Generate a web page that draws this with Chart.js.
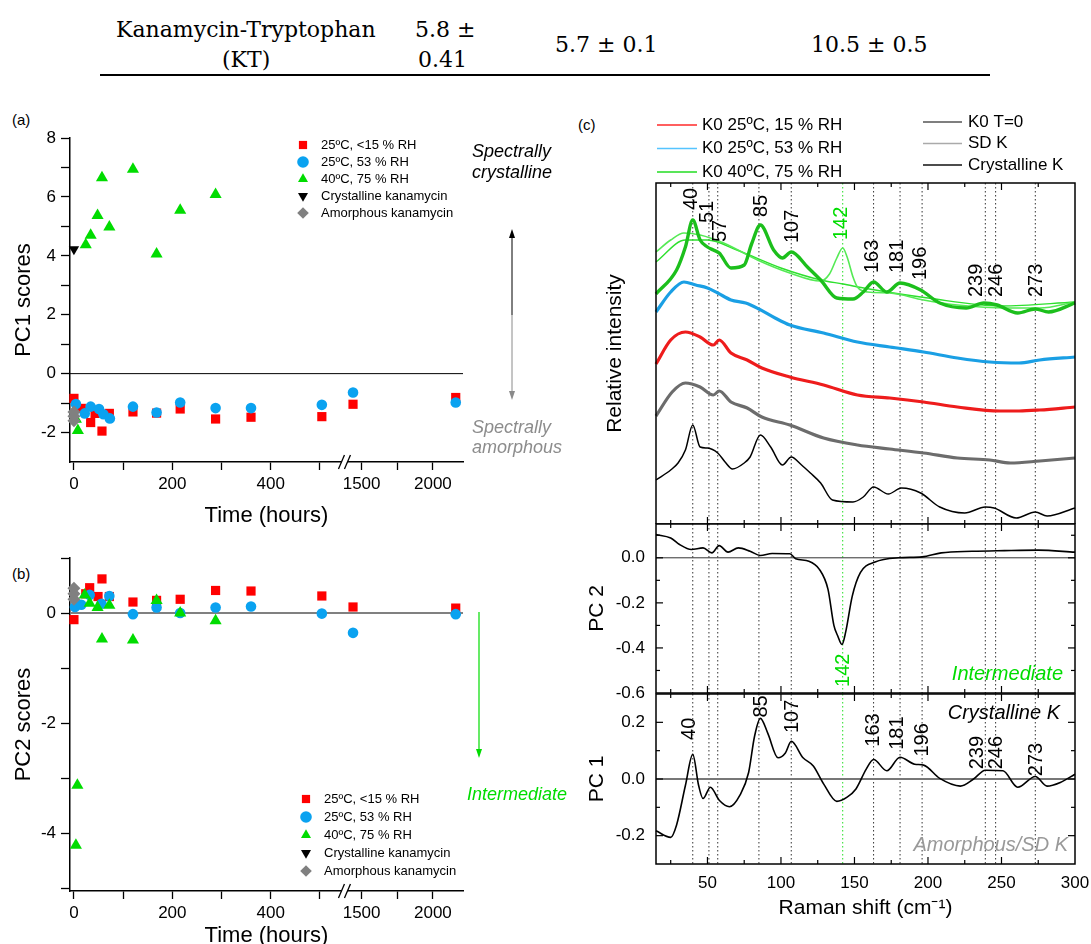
<!DOCTYPE html>
<html>
<head>
<meta charset="utf-8">
<script src="https://cdn.jsdelivr.net/npm/chart.js@4.4.1/dist/chart.umd.min.js"></script>
<style>
  body { margin: 0; background: #fff; }
  #page { position: relative; width: 1091px; height: 944px; overflow: hidden; font-family: "Liberation Sans", Arial, sans-serif; }
  canvas { position: absolute; }
  .t { position: absolute; white-space: nowrap; line-height: 1; }
  .serif { font-family: "DejaVu Serif", serif; font-size: 22px; }
  .tag { font-size: 15px; }
</style>
</head>
<body>
<div id="page">
  <div class="t serif" style="left:116px;top:19px">Kanamycin-Tryptophan</div>
  <div class="t serif" style="left:222px;top:49px">(KT)</div>
  <div class="t serif" style="left:415px;top:19px">5.8 ±</div>
  <div class="t serif" style="left:418px;top:49px">0.41</div>
  <div class="t serif" style="left:555px;top:34px">5.7 ± 0.1</div>
  <div class="t serif" style="left:811px;top:34px">10.5 ± 0.5</div>
  <div style="position:absolute;left:100px;top:74px;width:890px;height:2px;background:#000"></div>

  <div class="t tag" style="left:12px;top:112px">(a)</div>
  <div class="t tag" style="left:12px;top:566px">(b)</div>
  <div class="t tag" style="left:578px;top:117px">(c)</div>

  <canvas id="cA" width="590" height="440" style="left:0;top:95px"></canvas>
  <canvas id="cB" width="590" height="404" style="left:0;top:540px"></canvas>
  <canvas id="cTop" width="511" height="424" style="left:580px;top:100px"></canvas>
  <canvas id="cPC2" width="511" height="190" style="left:580px;top:514px"></canvas>
  <canvas id="cPC1" width="511" height="260" style="left:580px;top:684px"></canvas>
</div>
<script>
// ---- (a) PC1 scores vs storage time (hours)
const tRedA = [0, 15, 34, 43, 57, 72, 120, 168, 216, 288, 360, 504, 1440, 2160];
const pc1Red = [-0.84, -1.18, -1.66, -1.35, -1.95, -1.35, -1.3, -1.34, -1.2, -1.54, -1.48, -1.46, -1.04, -0.81];
const tBlueA = [4, 22, 34, 51, 60, 73, 120, 168, 216, 288, 360, 504, 1440, 2160];
const pc1Blue = [-1.03, -1.35, -1.12, -1.2, -1.38, -1.52, -1.12, -1.32, -0.98, -1.17, -1.17, -1.06, -0.64, -0.98];
const tGreenA = [4, 8, 24, 34, 48, 57, 72, 120, 168, 216, 288];
const pc1Green = [-1.55, -1.93, 4.38, 4.7, 5.37, 6.65, 4.98, 6.94, 4.06, 5.55, 6.08];
const tCrystA = [0];
const pc1Cryst = [4.22];
const tAmorphA = [0, 0, 0];
const pc1Amorph = [-1.3, -1.45, -1.6];

// ---- (b) PC2 scores
const tRedB = [0, 24, 32, 49, 57, 72, 120, 168, 216, 288, 360, 504, 1440, 2160];
const pc2Red = [-0.12, 0.35, 0.46, 0.3, 0.62, 0.3, 0.2, 0.23, 0.25, 0.41, 0.4, 0.31, 0.11, 0.09];
const tBlueB = [2, 15, 32, 56, 72, 120, 168, 216, 288, 360, 504, 1440, 2160];
const pc2Blue = [0.11, 0.15, 0.33, 0.17, 0.31, -0.02, 0.1, 0, 0.1, 0.12, -0.01, -0.36, -0.02];
const tGreenB = [4, 7, 22, 32, 48, 57, 72, 120, 168, 216, 288];
const pc2Green = [-4.22, -3.13, 0.33, 0.18, 0.1, -0.47, 0.14, -0.49, 0.23, 0, -0.14];
const tCrystB = [];
const pc2Cryst = [];
const tAmorphB = [0, 0, 0];
const pc2Amorph = [0.45, 0.35, 0.25];

const scoreLabels = ['25ºC, <15 % RH', '25ºC, 53 % RH', '40ºC, 75 % RH', 'Crystalline kanamycin', 'Amorphous kanamycin'];
const timeTicks = [0, 100, 200, 300, 400, 500, 1500, 1750, 2000];
const timeLabels = [0, 200, 400, 1500, 2000];

// ---- (c) Raman spectra (relative intensity, arbitrary units)
const ramanCryst = [15, 25, 30, 35, 40, 45, 50, 57, 62, 67, 75, 79, 86, 93, 101, 107, 114, 120, 127, 135, 149, 156, 163, 173, 182, 195, 208, 225, 239, 245, 260, 273, 281, 300];
const intCryst = [0.44, 0.54, 0.61, 0.74, 0.99, 0.77, 0.76, 0.71, 0.62, 0.55, 0.61, 0.67, 0.89, 0.77, 0.59, 0.67, 0.59, 0.51, 0.41, 0.24, 0.22, 0.27, 0.37, 0.3, 0.36, 0.31, 0.17, 0.11, 0.17, 0.16, 0.06, 0.12, 0.08, 0.16];
const ramanSD = [15, 26, 35, 45, 54, 58, 66, 77, 87, 106, 129, 152, 174, 197, 220, 242, 256, 276, 300];
const intSD = [1.08, 1.32, 1.41, 1.37, 1.29, 1.33, 1.22, 1.16, 1.07, 0.99, 0.86, 0.79, 0.75, 0.71, 0.66, 0.64, 0.61, 0.63, 0.66];
const ramanRH15 = [15, 25, 35, 45, 54, 58, 66, 77, 87, 106, 129, 152, 174, 197, 220, 249, 262, 276, 300];
const intRH15 = [1.6, 1.84, 1.92, 1.87, 1.79, 1.84, 1.71, 1.64, 1.56, 1.47, 1.39, 1.29, 1.26, 1.22, 1.17, 1.13, 1.13, 1.14, 1.17];
const ramanRH53 = [15, 25, 34, 42, 50, 57, 66, 76, 85, 96, 106, 129, 152, 174, 197, 220, 242, 262, 276, 300];
const intRH53 = [2.12, 2.32, 2.42, 2.39, 2.36, 2.31, 2.24, 2.21, 2.15, 2.06, 1.99, 1.91, 1.82, 1.77, 1.72, 1.66, 1.62, 1.61, 1.64, 1.67];
const ramanRH75 = [15, 29, 35, 40, 45, 50, 54, 58, 66, 75, 80, 86, 95, 101, 107, 118, 127, 138, 149, 156, 163, 172, 181, 195, 208, 226, 238, 247, 261, 273, 282, 300];
const intRH75 = [2.3, 2.54, 2.77, 3.04, 2.84, 2.77, 2.74, 2.71, 2.56, 2.59, 2.8, 2.99, 2.74, 2.66, 2.72, 2.57, 2.44, 2.26, 2.25, 2.32, 2.42, 2.32, 2.41, 2.34, 2.21, 2.16, 2.21, 2.19, 2.11, 2.15, 2.12, 2.21];
const ramanRH75b = [15, 25, 34, 45, 61, 84, 106, 127, 133, 138, 142, 145, 149, 152, 159, 174, 197, 220, 254, 276, 300];
const intRH75b = [2.72, 2.84, 2.91, 2.89, 2.81, 2.64, 2.51, 2.43, 2.5, 2.66, 2.76, 2.67, 2.47, 2.37, 2.32, 2.31, 2.24, 2.19, 2.16, 2.16, 2.22];
const ramanRH75c = [15, 35, 50, 70, 100, 127, 142, 160, 200, 250, 300];
const intRH75c = [2.62, 2.84, 2.84, 2.74, 2.56, 2.44, 2.4, 2.35, 2.26, 2.18, 2.22];

// PCA loadings
const ramanPC2 = [15, 25, 31, 39, 47, 53, 58, 64, 71, 79, 86, 94, 106, 110, 119, 126, 132, 136, 138.5, 141.5, 144, 148.5, 154, 164, 180, 196, 209, 230, 252, 275, 300];
const loadPC2 = [0.103, 0.088, 0.059, 0.037, 0.044, 0.022, 0.054, 0.025, 0.044, 0.029, 0.01, 0.019, 0.018, -0.004, -0.015, -0.05, -0.14, -0.3, -0.345, -0.385, -0.33, -0.17, -0.066, -0.019, 0, 0.004, 0.022, 0.029, 0.032, 0.034, 0.025];
const ramanPC1 = [15, 25, 29, 35, 40, 44, 47, 52, 58, 65, 72, 78, 82, 86, 91, 98, 103, 107, 115, 122, 129, 138, 145, 151, 158, 163, 172, 181, 191, 197, 208, 222, 231, 239, 251, 261, 273, 281, 290, 300];
const loadPC1 = [-0.183, -0.206, -0.162, -0.023, 0.087, -0.023, -0.069, -0.029, -0.075, -0.098, -0.058, 0.023, 0.15, 0.214, 0.162, 0.075, 0.092, 0.133, 0.075, 0.046, -0.017, -0.079, -0.064, -0.035, 0.035, 0.069, 0.029, 0.077, 0.052, 0.049, 0.002, -0.025, 0, 0.031, 0.029, -0.029, 0.009, -0.025, -0.012, 0.017];

// band positions (cm-1) and where their labels sit
const peakLines = [40, 51, 57, 85, 107, 142, 163, 181, 196, 239, 246, 273];
const topPeakLabels = [40, 51, 57, 85, 107, 142, 163, 181, 196, 239, 246, 273];
const topPeakLabelX = [38.8, 49.7, 59.2, 87, 107.5, 141.5, 162, 179, 194.6, 233.3, 246.9, 274];
const topPeakLabelAt = [3.14, 3.01, 2.82, 3.07, 2.81, 2.84, 2.51, 2.51, 2.44, 2.27, 2.27, 2.27];
const pc1PeakLabels = [40, 85, 107, 163, 181, 196, 239, 246, 273];
const pc1PeakLabelX = [38.1, 87, 107.5, 162.6, 179, 196, 234, 246.9, 274];
const pc1PeakLabelAt = [0.138, 0.217, 0.162, 0.114, 0.103, 0.079, 0.034, 0.034, 0.01];

const SANS = '"Liberation Sans", Arial, sans-serif';
const RED = '#ff0000', BLUE = '#0aa2f0', GREEN = '#00dc00', GREY = '#808080';
Chart.defaults.font.family = SANS;
Chart.defaults.color = '#000';
Chart.defaults.animation = false;

function pts(xs, ys) { return xs.map((x, i) => ({ x: x, y: ys[i] })); }

// broken time axis: 0-550 h linear, then jump to 1380 h, compressed
const BREAK_AT = 550, RESUME_AT = 1380, SQUEEZE = 0.29;
function warpTime(t) { return t <= BREAK_AT ? t : BREAK_AT + (t - RESUME_AT) * SQUEEZE; }
function unwarpTime(u) { return u <= BREAK_AT ? u : RESUME_AT + (u - BREAK_AT) / SQUEEZE; }

class BrokenTimeScale extends Chart.LinearScale {
  getPixelForValue(value) {
    if (value === null || value === undefined || isNaN(value)) return NaN;
    const u0 = warpTime(this.min), u1 = warpTime(this.max);
    return this.getPixelForDecimal((warpTime(value) - u0) / (u1 - u0));
  }
  getValueForPixel(pixel) {
    const u0 = warpTime(this.min), u1 = warpTime(this.max);
    return unwarpTime(u0 + this.getDecimalForPixel(pixel) * (u1 - u0));
  }
}
BrokenTimeScale.id = 'brokenTime';
BrokenTimeScale.defaults = Chart.LinearScale.defaults;
Chart.register(BrokenTimeScale);

const pointStyles = [
  { style: 'rect', color: RED, r: 6.5, rot: 0, order: 3 },
  { style: 'circle', color: BLUE, r: 5.3, rot: 0, order: 2 },
  { style: 'triangle', color: GREEN, r: 7, rot: 0, order: 1 },
  { style: 'triangle', color: '#000', r: 6, rot: 180, order: 4 },
  { style: 'rectRot', color: GREY, r: 6.5, rot: 0, order: 0 },
];

function scoreDatasets(groups) {
  return groups.map((g, i) => {
    const s = pointStyles[i];
    return {
      label: scoreLabels[i],
      data: pts(g[0], g[1]),
      pointStyle: s.style,
      pointRotation: s.rot,
      pointRadius: s.r,
      pointBackgroundColor: s.color,
      backgroundColor: s.color,
      pointBorderWidth: 0,
      showLine: false,
      order: s.order,
      clip: false,
    };
  });
}

function line(ctx, x1, y1, x2, y2) {
  ctx.beginPath(); ctx.moveTo(x1, y1); ctx.lineTo(x2, y2); ctx.stroke();
}

function arrowHead(ctx, x, y, dir, color) {
  ctx.fillStyle = color;
  ctx.beginPath();
  ctx.moveTo(x, y);
  ctx.lineTo(x - 3, y - dir * 9);
  ctx.lineTo(x + 3, y - dir * 9);
  ctx.closePath();
  ctx.fill();
}

function scorePlugin(cfg) {
  return {
    id: 'scoreDecor',
    beforeDatasetsDraw(chart) {
      const { ctx, chartArea: a, scales } = chart;
      const y0 = scales.y.getPixelForValue(0);
      ctx.save();
      ctx.strokeStyle = cfg.zeroColor;
      ctx.lineWidth = cfg.zeroWidth;
      line(ctx, a.left, y0, a.right, y0);
      ctx.restore();
    },
    afterDraw(chart) {
      const { ctx, chartArea: a, scales } = chart;
      ctx.save();
      // axis break
      const px = scales.x.getPixelForValue(BREAK_AT);
      ctx.fillStyle = '#fff';
      ctx.fillRect(px - 3, a.bottom - 3, 6, 6);
      ctx.strokeStyle = '#000';
      ctx.lineWidth = 1.3;
      [-3, 3].forEach(d => line(ctx, px + d - 3, a.bottom + 7, px + d + 3, a.bottom - 7));
      // legend
      ctx.font = '13px ' + SANS;
      ctx.textBaseline = 'middle';
      ctx.textAlign = 'left';
      chart.data.datasets.forEach((ds, i) => {
        const y = cfg.legendY + i * cfg.legendGap;
        ctx.fillStyle = ds.pointBackgroundColor;
        Chart.helpers.drawPoint(ctx, { pointStyle: ds.pointStyle, rotation: ds.pointRotation, radius: 5.8, borderWidth: 0 }, cfg.legendX, y);
        ctx.fillStyle = '#000';
        ctx.fillText(ds.label, cfg.legendX + 18, y);
      });
      cfg.notes(ctx, chart);
      ctx.restore();
    },
  };
}

function scoreChart(id, groups, yCfg, cfg) {
  return new Chart(document.getElementById(id), {
    type: 'scatter',
    data: { datasets: scoreDatasets(groups) },
    options: {
      responsive: false,
      events: [],
      layout: { padding: cfg.padding },
      plugins: { legend: { display: false }, tooltip: { enabled: false } },
      scales: {
        x: {
          type: 'brokenTime',
          min: -8, max: 2211,
          afterBuildTicks: s => { s.ticks = timeTicks.map(v => ({ value: v })); },
          afterFit: s => { s.height = cfg.xHeight; },
          ticks: { autoSkip: false, maxRotation: 0, padding: 4, font: { size: 17 }, color: '#000',
            callback: v => timeLabels.includes(v) ? String(v) : '' },
          grid: { display: true, drawOnChartArea: false, drawTicks: true, tickLength: 8, tickColor: '#000', tickWidth: 1.3, color: '#000' },
          border: { display: true, color: '#000', width: 1.5 },
          title: { display: true, text: 'Time (hours)', font: { size: 22 }, color: '#000', padding: { top: 0, bottom: cfg.xTitlePad } },
        },
        y: {
          min: yCfg.min, max: yCfg.max,
          afterBuildTicks: s => { s.ticks = yCfg.ticks.map(v => ({ value: v })); },
          afterFit: s => { s.width = 70; },
          ticks: { autoSkip: false, padding: 5, font: { size: 17 }, color: '#000',
            callback: v => v % 2 === 0 ? String(v) : '' },
          grid: { display: true, drawOnChartArea: false, drawTicks: true, tickLength: 9, tickColor: '#000', tickWidth: 1.3, color: '#000' },
          border: { display: true, color: '#000', width: 1.5 },
          title: { display: true, text: yCfg.title, font: { size: 22 }, color: '#000', padding: { top: 11, bottom: 0 } },
        },
      },
    },
    plugins: [scorePlugin(cfg)],
  });
}

scoreChart('cA',
  [[tRedA, pc1Red], [tBlueA, pc1Blue], [tGreenA, pc1Green], [tCrystA, pc1Cryst], [tAmorphA, pc1Amorph]],
  { min: -3, max: 8, ticks: [-2, -1, 0, 1, 2, 3, 4, 5, 6, 7, 8], title: 'PC1 scores' },
  {
    padding: { top: 43, right: 127, left: 0, bottom: 0 }, xHeight: 73, xTitlePad: 6,
    zeroColor: '#000', zeroWidth: 1,
    legendX: 303, legendY: 50, legendGap: 17,
    notes(ctx) {
      ctx.font = 'italic 18px ' + SANS;
      ctx.textBaseline = 'middle';
      ctx.fillStyle = '#000';
      ctx.fillText('Spectrally', 472, 57);
      ctx.fillText('crystalline', 472, 78);
      ctx.lineWidth = 1;
      ctx.strokeStyle = '#000';
      line(ctx, 512, 140, 512, 220);
      arrowHead(ctx, 512, 134, -1, '#000');
      ctx.strokeStyle = '#8a8a8a';
      line(ctx, 512, 220, 512, 298);
      arrowHead(ctx, 512, 305, 1, '#8a8a8a');
      ctx.fillStyle = '#8c8c8c';
      ctx.fillText('Spectrally', 472, 333);
      ctx.fillText('amorphous', 472, 353);
    },
  });

scoreChart('cB',
  [[tRedB, pc2Red], [tBlueB, pc2Blue], [tGreenB, pc2Green], [tCrystB, pc2Cryst], [tAmorphB, pc2Amorph]],
  { min: -5.05, max: 1, ticks: [-5, -4, -3, -2, -1, 0, 1], title: 'PC2 scores' },
  {
    padding: { top: 18, right: 127, left: 0, bottom: 0 }, xHeight: 53, xTitlePad: -5,
    zeroColor: '#808080', zeroWidth: 2,
    legendX: 306, legendY: 259, legendGap: 18,
    notes(ctx) {
      ctx.strokeStyle = GREEN;
      ctx.lineWidth = 1.2;
      line(ctx, 479, 72, 479, 210);
      arrowHead(ctx, 479, 218, 1, GREEN);
      ctx.font = 'italic 18px ' + SANS;
      ctx.textBaseline = 'middle';
      ctx.fillStyle = GREEN;
      ctx.fillText('Intermediate', 467, 255);
    },
  });

// ---- (c) stacked spectra and loadings
function ramanFrame(cfg) {
  return {
    id: 'ramanFrame',
    beforeDatasetsDraw(chart) {
      const { ctx, chartArea: a, scales } = chart;
      ctx.save();
      ctx.lineWidth = 1;
      ctx.setLineDash([1.5, 2.5]);
      peakLines.forEach(p => {
        const x = scales.x.getPixelForValue(p);
        ctx.strokeStyle = p === 142 ? '#22dd22' : '#333';
        line(ctx, x, a.top, x, a.bottom);
      });
      ctx.setLineDash([]);
      if (cfg.zero) {
        const y0 = scales.y.getPixelForValue(0);
        ctx.strokeStyle = cfg.zero.color;
        ctx.lineWidth = cfg.zero.width;
        line(ctx, a.left, y0, a.right, y0);
      }
      ctx.restore();
    },
    afterDatasetsDraw(chart) {
      const { ctx, chartArea: a, scales } = chart;
      ctx.save();
      ctx.font = '20px ' + SANS;
      ctx.textBaseline = 'middle';
      ctx.textAlign = 'left';
      (cfg.peaks || []).forEach(([p, px, at]) => {
        ctx.save();
        ctx.translate(scales.x.getPixelForValue(px), scales.y.getPixelForValue(at));
        ctx.rotate(-Math.PI / 2);
        ctx.fillStyle = p === 142 ? GREEN : '#000';
        ctx.fillText(String(p), 0, 0);
        ctx.restore();
      });
      ctx.font = 'italic 20px ' + SANS;
      ctx.textAlign = 'right';
      (cfg.notes || []).forEach(n => {
        ctx.fillStyle = n.color;
        ctx.fillText(n.text, a.right - n.dx, a.top + n.dy);
      });
      // frame and inward ticks
      ctx.strokeStyle = '#000';
      ctx.lineWidth = 1.5;
      ctx.strokeRect(a.left, a.top, a.right - a.left, a.bottom - a.top);
      ctx.lineWidth = 1.2;
      for (let v = 25; v < 300; v += 25) {
        const x = scales.x.getPixelForValue(v);
        const len = v % 50 === 0 ? 7 : 4;
        line(ctx, x, a.top, x, a.top + len);
        line(ctx, x, a.bottom, x, a.bottom - len);
      }
      (cfg.yTicks || []).forEach(k => {
        const y = scales.y.getPixelForValue(k / 10);
        const len = k % 2 === 0 ? 7 : 4;
        line(ctx, a.left, y, a.left + len, y);
        line(ctx, a.right, y, a.right - len, y);
      });
      if (cfg.legend) cfg.legend(ctx);
      ctx.restore();
    },
  };
}

function traceSet(xs, ys, color, width, order) {
  return {
    data: pts(xs, ys), showLine: true, borderColor: color, borderWidth: width,
    pointRadius: 0, cubicInterpolationMode: 'monotone', order: order, clip: false,
  };
}

function ramanChart(id, datasets, cfg) {
  return new Chart(document.getElementById(id), {
    type: 'scatter',
    data: { datasets: datasets },
    options: {
      responsive: false,
      events: [],
      layout: { padding: cfg.padding },
      plugins: { legend: { display: false }, tooltip: { enabled: false } },
      scales: {
        x: {
          type: 'linear', min: 15, max: 300,
          display: !!cfg.xTitle,
          afterBuildTicks: s => { s.ticks = [50, 100, 150, 200, 250, 300].map(v => ({ value: v })); },
          afterFit: s => { s.height = cfg.xHeight || 0; s.paddingLeft = 0; s.paddingRight = 0; },
          ticks: { autoSkip: false, maxRotation: 0, padding: 9, font: { size: 17 }, color: '#000' },
          grid: { display: false, drawTicks: false },
          border: { display: false },
          title: { display: !!cfg.xTitle, text: cfg.xTitle, font: { size: 21 }, color: '#000', padding: { top: 0, bottom: 23 } },
        },
        y: {
          min: cfg.yMin, max: cfg.yMax,
          afterBuildTicks: s => { s.ticks = (cfg.yLabels || []).map(v => ({ value: v })); },
          afterFit: s => { s.width = 76; s.paddingTop = 0; s.paddingBottom = 0; },
          ticks: { display: !!cfg.yLabels, autoSkip: false, padding: 11, font: { size: 17 }, color: '#000',
            callback: v => (Math.abs(v) < 1e-9 ? 0 : v).toFixed(1) },
          grid: { display: false, drawTicks: false },
          border: { display: false },
          title: { display: true, text: cfg.yTitle, font: { size: cfg.yTitleSize }, color: '#000', padding: { top: cfg.yTitlePad, bottom: 0 } },
        },
      },
    },
    plugins: [ramanFrame(cfg)],
  });
}

const legendLeft = [['K0 25ºC, 15 % RH', '#ff2a2a'], ['K0 25ºC, 53 % RH', '#55c4ff'], ['K0 40ºC, 75 % RH', '#22dd22']];
const legendRight = [['K0 T=0', '#555'], ['SD K', '#aaa'], ['Crystalline K', '#111']];

ramanChart('cTop', [
  traceSet(ramanRH75, intRH75, '#1cbf1c', 3.4, 0),
  traceSet(ramanRH75b, intRH75b, '#55ea55', 1.6, 1),
  traceSet(ramanRH75c, intRH75c, '#2ee02e', 1.4, 2),
  traceSet(ramanRH53, intRH53, '#1a9fe4', 3.2, 3),
  traceSet(ramanRH15, intRH15, '#ee1c1c', 3.2, 4),
  traceSet(ramanSD, intSD, '#6c6c6c', 3.2, 5),
  traceSet(ramanCryst, intCryst, '#000', 1.5, 6),
], {
  padding: { top: 83, right: 16, left: 0, bottom: 0 },
  yMin: 0, yMax: 3.41, yTitle: 'Relative intensity', yTitleSize: 21, yTitlePad: 23,
  peaks: topPeakLabels.map((p, i) => [p, topPeakLabelX[i], topPeakLabelAt[i]]),
  legend(ctx) {
    ctx.font = '17px ' + SANS;
    ctx.textAlign = 'left';
    ctx.textBaseline = 'middle';
    ctx.lineWidth = 1.6;
    legendLeft.forEach(([t, c], i) => {
      const y = 25 + i * 23.5;
      ctx.strokeStyle = c; line(ctx, 77, y, 117, y);
      ctx.fillStyle = '#000'; ctx.fillText(t, 122, y);
    });
    legendRight.forEach(([t, c], i) => {
      const y = 22 + i * 21.5;
      ctx.strokeStyle = c; line(ctx, 343, y, 382, y);
      ctx.fillStyle = '#000'; ctx.fillText(t, 388, y);
    });
  },
});

ramanChart('cPC2', [traceSet(ramanPC2, loadPC2, '#000', 1.6, 0)], {
  padding: { top: 10, right: 16, left: 0, bottom: 11 },
  yMin: -0.6, yMax: 0.15, yLabels: [-0.6, -0.4, -0.2, 0], yTitle: 'PC 2', yTitleSize: 21, yTitlePad: 5,
  yTicks: [-5, -4, -3, -2, -1, 0, 1],
  zero: { color: '#333', width: 1 },
  peaks: [[142, 142.2, -0.573]],
  notes: [{ text: 'Intermediate', color: GREEN, dx: 12, dy: 150 }],
});

ramanChart('cPC1', [traceSet(ramanPC1, loadPC1, '#000', 1.6, 0)], {
  padding: { top: 10, right: 16, left: 0, bottom: 0 }, xHeight: 80, xTitle: 'Raman shift (cm⁻¹)',
  yMin: -0.3, yMax: 0.3, yLabels: [-0.2, 0, 0.2], yTitle: 'PC 1', yTitleSize: 21, yTitlePad: 5,
  yTicks: [-2, -1, 0, 1, 2],
  zero: { color: '#777', width: 2 },
  peaks: pc1PeakLabels.map((p, i) => [p, pc1PeakLabelX[i], pc1PeakLabelAt[i]]),
  notes: [
    { text: 'Crystalline K', color: '#000', dx: 15, dy: 19 },
    { text: 'Amorphous/SD K', color: '#999', dx: 7, dy: 151 },
  ],
});
</script>
</body>
</html>
